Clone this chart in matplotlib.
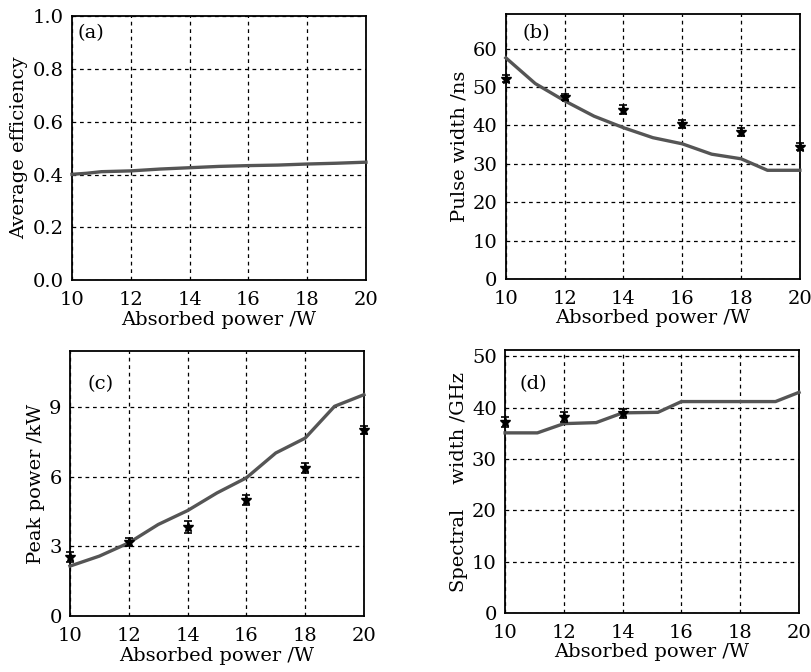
import matplotlib
matplotlib.use("Agg")
import matplotlib.pyplot as plt
import numpy as np

plt.rcParams['font.family'] = ['DejaVu Serif']
plt.rcParams['mathtext.fontset'] = 'dejavuserif'

# (a) Average efficiency
a_x = [10, 10.5, 11, 12, 13, 14, 15, 16, 17, 18, 19, 20]
a_y = [0.401, 0.405, 0.411, 0.414, 0.421, 0.426, 0.431, 0.434, 0.436, 0.440, 0.443, 0.447]

# (b) Pulse width
b_x = [10, 11, 12, 13, 14, 15, 16, 17, 18, 18.9, 20]
b_y = [57.6, 50.9, 46.4, 42.4, 39.4, 36.8, 35.2, 32.5, 31.3, 28.3, 28.3]
b_mx = [10, 12, 14, 16, 18, 20]
b_my = [52.2, 47.4, 44.1, 40.3, 38.3, 34.4]
b_err = [1.0, 0.9, 1.1, 1.0, 1.0, 0.9]

# (c) Peak power
c_x = [10, 11, 12, 13, 14, 15, 16, 17, 18, 19, 20]
c_y = [2.15, 2.58, 3.15, 3.94, 4.54, 5.3, 5.95, 7.02, 7.66, 9.03, 9.53]
c_mx = [10, 12, 14, 16, 18, 20]
c_my = [2.55, 3.18, 3.83, 5.01, 6.38, 8.02]
c_err = [0.22, 0.18, 0.25, 0.22, 0.22, 0.18]

# (d) Spectral width
d_x = [10, 11.1, 12, 13.1, 14, 15.2, 16, 19.2, 20]
d_y = [35.1, 35.1, 36.9, 37.1, 39.0, 39.1, 41.2, 41.2, 43.0]
d_mx = [10, 12, 14]
d_my = [37.2, 38.2, 38.9]
d_err = [0.9, 0.9, 0.9]

xticks = [10, 12, 14, 16, 18, 20]

fig = plt.figure(figsize=(8.12, 6.72), dpi=100)

panels = [
    dict(pos=[0.0887, 0.583, 0.362, 0.393], x=a_x, y=a_y, mx=None, ylim=(0, 1.0),
         yticks=[0.0, 0.2, 0.4, 0.6, 0.8, 1.0], yfmt='{:.1f}', ylabel='Average efficiency',
         tag='(a)', tagpos=(0.02, 0.935)),
    dict(pos=[0.623, 0.585, 0.362, 0.394], x=b_x, y=b_y, mx=b_mx, my=b_my, err=b_err, ylim=(0, 69),
         yticks=[0, 10, 20, 30, 40, 50, 60], yfmt='{:d}', ylabel='Pulse width /ns',
         tag='(b)', tagpos=(0.058, 0.93)),
    dict(pos=[0.0862, 0.0833, 0.362, 0.394], x=c_x, y=c_y, mx=c_mx, my=c_my, err=c_err, ylim=(0, 11.4),
         yticks=[0, 3, 6, 9], yfmt='{:d}', ylabel='Peak power /kW',
         tag='(c)', tagpos=(0.058, 0.875)),
    dict(pos=[0.622, 0.0878, 0.362, 0.391], x=d_x, y=d_y, mx=d_mx, my=d_my, err=d_err, ylim=(0, 51.2),
         yticks=[0, 10, 20, 30, 40, 50], yfmt='{:d}', ylabel='Spectral    width /GHz',
         tag='(d)', tagpos=(0.048, 0.87)),
]

fs = 14
for p in panels:
    ax = fig.add_axes(p['pos'])
    ax.plot(p['x'], p['y'], color='#555555', lw=2.4, zorder=3, clip_on=False)
    if p['mx'] is not None:
        ax.errorbar(p['mx'], p['my'], yerr=p['err'], fmt='*', color='black', ms=7,
                    capsize=3, elinewidth=1.2, capthick=1.2, zorder=4, clip_on=False)
    ax.set_xlim(10, 20)
    ax.set_ylim(*p['ylim'])
    ax.set_xticks(xticks)
    ax.set_xticklabels([str(t) for t in xticks])
    ax.set_yticks(p['yticks'])
    ax.set_yticklabels([p['yfmt'].format(t) for t in p['yticks']])
    ax.grid(True, color='black', linestyle=(0, (3, 3)), linewidth=0.9)
    ax.tick_params(direction='in', length=0, labelsize=fs)
    ax.tick_params(axis='x', pad=8)
    ax.tick_params(axis='y', pad=6)
    for s in ax.spines.values():
        s.set_linewidth(1.3)
    ax.set_xlabel('Absorbed power /W', fontsize=fs, labelpad=1)
    ax.set_ylabel(p['ylabel'], fontsize=fs, labelpad=3)
    ax.text(p['tagpos'][0], p['tagpos'][1], p['tag'], transform=ax.transAxes,
            fontsize=fs, va='center', ha='left')

fig.savefig('out.png', dpi=100)
